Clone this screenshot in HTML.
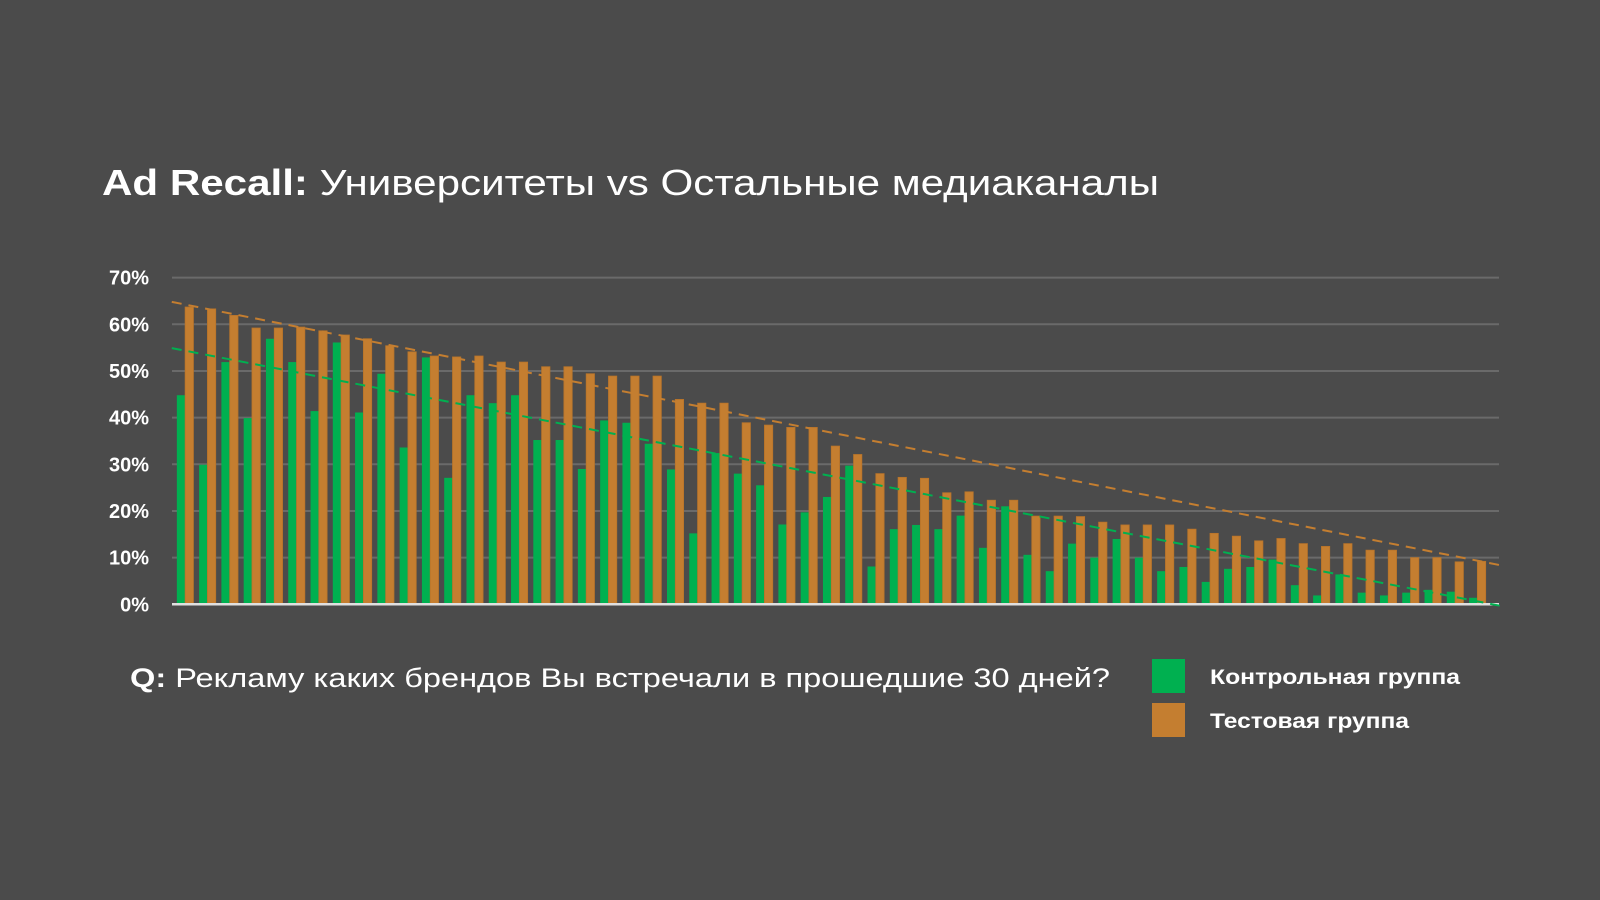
<!DOCTYPE html>
<html><head><meta charset="utf-8"><style>
html,body{margin:0;padding:0;background:#4b4b4b;}
svg{display:block;}
text{font-family:"Liberation Sans","DejaVu Sans",sans-serif;fill:#fff;}
</style></head><body>
<svg id="chart" width="1600" height="900" viewBox="0 0 1600 900">
<rect width="1600" height="900" fill="#4b4b4b"/>
<text x="102" y="195" font-size="36" textLength="1057" lengthAdjust="spacingAndGlyphs"><tspan font-weight="bold">Ad Recall:</tspan> Университеты vs Остальные медиаканалы</text>
<g id="grid"></g>
<g id="ylabels"></g>
<g id="bars"></g>
<g id="trends"></g>
<text x="130" y="687" font-size="27" textLength="980" lengthAdjust="spacingAndGlyphs"><tspan font-weight="bold">Q:</tspan> Рекламу каких брендов Вы встречали в прошедшие 30 дней?</text>
<rect x="1152" y="659" width="33" height="34" fill="#00b050"/>
<text x="1210" y="684" font-size="21" font-weight="bold" textLength="250" lengthAdjust="spacingAndGlyphs">Контрольная группа</text>
<rect x="1152" y="703" width="33" height="34" fill="#c47e30"/>
<text x="1210" y="728" font-size="21" font-weight="bold" textLength="199" lengthAdjust="spacingAndGlyphs">Тестовая группа</text>
</svg>
<script>
const controlValues = [44.8,29.9,51.9,39.9,56.9,51.9,41.4,56.1,41.1,49.4,33.6,52.9,27.1,44.8,43.1,44.8,35.2,35.2,29.0,39.4,
38.9,34.4,28.9,15.2,32.4,28.0,25.5,17.1,19.7,23.0,29.7,8.1,16.1,17.0,16.1,19.0,12.1,21.0,10.6,7.1,
13.0,10.0,14.0,10.0,7.1,8.0,4.8,7.6,8.0,9.6,4.1,1.9,6.4,2.5,1.9,2.5,3.1,2.7,1.4];
const testValues = [63.7,63.3,61.9,59.2,59.2,59.4,58.6,57.7,56.9,55.4,54.1,53.2,53.0,53.2,51.9,51.9,50.9,50.9,49.4,48.9,
48.9,48.9,43.9,43.1,43.1,38.9,38.4,37.9,37.9,33.9,32.1,28.0,27.2,27.0,23.9,24.1,22.3,22.3,18.9,18.9,
18.8,17.6,17.0,17.0,17.0,16.1,15.2,14.6,13.6,14.1,13.0,12.4,13.0,11.6,11.6,10.0,10.0,9.1,9.2];
const controlTrend = [54.9, -0.3];
const testTrend = [64.8, 8.4];
const yTicks = [0,10,20,30,40,50,60,70];
const yTickLabels = ["0%","10%","20%","30%","40%","50%","60%","70%"];

const NS="http://www.w3.org/2000/svg";
const GX0=172, GX1=1499, BX0=174, Y0=604.3, PX10=46.67;
const n=controlValues.length;
const band=22.28;
function yScale(v){return Y0 - v/10*PX10;}
function xCenter(i){return BX0 + (i+0.5)*band;}
function mk(tag,attrs,parent){const e=document.createElementNS(NS,tag);for(const k in attrs)e.setAttribute(k,attrs[k]);parent.appendChild(e);return e;}

const grid=document.getElementById('grid'), yl=document.getElementById('ylabels');
yTicks.forEach((t,i)=>{
  if(t>0){
    const l=mk('line',{x1:GX0,x2:GX1,y1:yScale(t),y2:yScale(t),stroke:'#6a6a6a','stroke-width':2},grid);
    
    
  }
  const tx=mk('text',{x:149,y:yScale(t)+7,'font-size':20,'font-weight':'bold','text-anchor':'end'},yl);
  tx.textContent=yTickLabels[i];
  
  
});

const bars=document.getElementById('bars');
const bw=8.3;
for(let i=0;i<n;i++){
  const c=xCenter(i);
  const g=mk('rect',{x:c-bw,y:yScale(controlValues[i]),width:bw,height:Y0-yScale(controlValues[i]),fill:'#00b050'},bars);
  
  
  const o=mk('rect',{x:c,y:yScale(testValues[i]),width:bw,height:Y0-yScale(testValues[i]),fill:'#c47e30',stroke:'#b8742a','stroke-width':0.8},bars);
  
  
}
const axis=mk('line',{x1:GX0,x2:GX1,y1:Y0,y2:Y0,stroke:'#e0e0e0','stroke-width':2.5},bars);



const trends=document.getElementById('trends');
const iS=-0.6, iE=59.0;
[[controlTrend,'#00b050','trendline-control'],[testTrend,'#c47e30','trendline-test']].forEach(([tv,col,name])=>{
  const l=mk('line',{x1:xCenter(iS),y1:yScale(tv[0]),x2:xCenter(iE),y2:yScale(tv[1]),stroke:col,'stroke-width':2,'stroke-dasharray':'10 7'},trends);
  
  
});
</script>
</body></html>
